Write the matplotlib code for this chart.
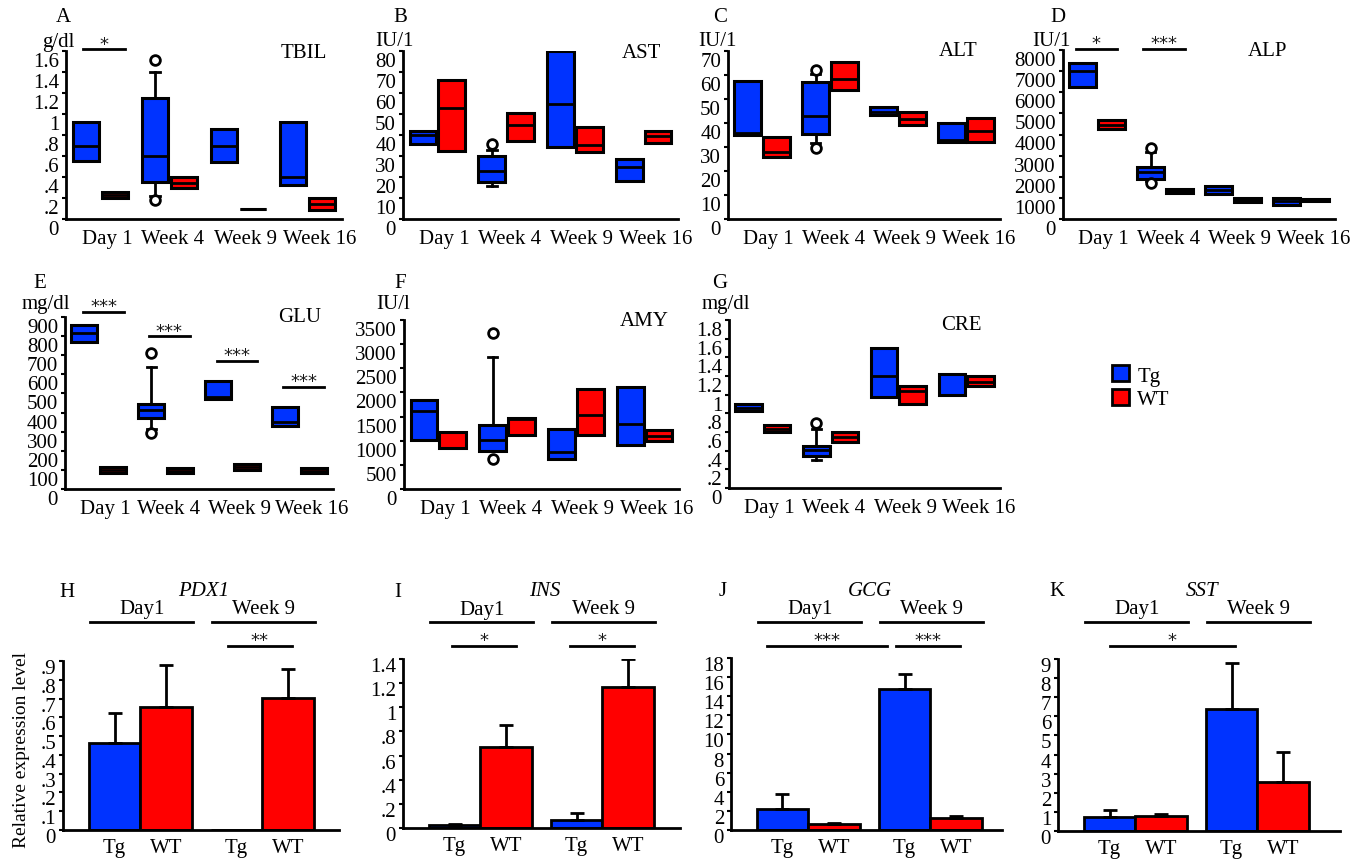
import matplotlib
matplotlib.use('Agg')
import matplotlib.pyplot as plt
import matplotlib.transforms as mtransforms
from matplotlib.patches import Patch
from matplotlib.ticker import FuncFormatter, MultipleLocator

# time points for serum chemistry panels
times = ['Day 1', 'Week 4', 'Week 9', 'Week 16']

# box stats per time point: (whisker low, q1, median, q3, whisker high)
tbil_tg = [(0.55, 0.55, 0.70, 0.92, 0.92), (0.22, 0.35, 0.60, 1.15, 1.40),
           (0.545, 0.545, 0.70, 0.855, 0.855), (0.325, 0.325, 0.40, 0.92, 0.92)]
tbil_wt = [(0.20, 0.20, 0.23, 0.26, 0.26), (0.295, 0.295, 0.345, 0.40, 0.40),
           (0.095, 0.095, 0.095, 0.095, 0.095), (0.085, 0.085, 0.14, 0.20, 0.20)]
tbil_tg_out = [[], [1.51, 0.18], [], []]

ast_tg = [(35.5, 35.5, 40, 42, 42), (15.5, 17.4, 23, 29.8, 33),
          (34.4, 34.4, 55, 80, 80), (17.9, 17.9, 24.6, 28.5, 28.5)]
ast_wt = [(32.5, 32.5, 53, 66, 66), (37.2, 37.2, 44.8, 50.7, 50.7),
          (31.7, 31.7, 35.3, 43.6, 43.6), (36.1, 36.1, 39.6, 42, 42)]
ast_tg_out = [[], [35.7], [], []]

alt_tg = [(35, 35, 36, 57.3, 57.3), (31.6, 35.4, 43, 57.1, 60.3),
          (43.4, 43.4, 44.4, 46.5, 46.5), (32.2, 32.2, 32.9, 40.2, 40.2)]
alt_wt = [(25.9, 25.9, 28, 34.3, 34.3), (53.8, 53.8, 58.3, 65.6, 65.6),
          (39.1, 39.1, 41.6, 44.4, 44.4), (32.2, 32.2, 36.8, 42, 42)]
alt_tg_out = [[], [62.1, 29.5], [], []]

alp_tg = [(6270, 6270, 7010, 7400, 7400), (1810, 1890, 2240, 2440, 3150),
          (1180, 1180, 1390, 1575, 1575), (660, 660, 850, 990, 990)]
alp_wt = [(4280, 4280, 4460, 4680, 4680), (1230, 1230, 1320, 1420, 1420),
          (820, 820, 900, 990, 990), (835, 835, 890, 945, 945)]
alp_tg_out = [[], [3350, 1690], [], []]

glu_tg = [(769, 769, 818, 860, 860), (315, 371, 411, 446, 638),
          (472, 472, 481, 563, 563), (332, 332, 350, 428, 428)]
glu_wt = [(84, 84, 101, 117, 117), (84, 84, 96, 108, 108),
          (101, 101, 115, 131, 131), (84, 84, 96, 110, 110)]
glu_tg_out = [[], [713, 292], [], []]

amy_tg = [(1020, 1020, 1610, 1850, 1850), (780, 780, 1010, 1325, 2730),
          (620, 620, 770, 1240, 1240), (910, 910, 1350, 2120, 2120)]
amy_wt = [(850, 850, 850, 1190, 1190), (1120, 1120, 1450, 1470, 1470),
          (1120, 1120, 1530, 2080, 2080), (990, 990, 1100, 1220, 1220)]
amy_tg_out = [[], [3230, 620], [], []]

cre_tg = [(0.82, 0.82, 0.86, 0.90, 0.90), (0.30, 0.34, 0.405, 0.45, 0.63),
          (0.98, 0.98, 1.20, 1.50, 1.50), (1.0, 1.0, 1.0, 1.22, 1.22)]
cre_wt = [(0.60, 0.60, 0.63, 0.67, 0.67), (0.495, 0.495, 0.55, 0.60, 0.60),
          (0.90, 0.90, 1.04, 1.09, 1.09), (1.09, 1.09, 1.14, 1.20, 1.20)]
cre_tg_out = [[], [0.70], [], []]

no_out = [[], [], [], []]

# qPCR: Tg Day1, WT Day1, Tg Week 9, WT Week 9
bar_labels = ['Tg', 'WT', 'Tg', 'WT']
pdx1_mean = [0.462, 0.655, 0.0, 0.705]
pdx1_err = [0.16, 0.224, 0.0, 0.151]
ins_mean = [0.022, 0.67, 0.069, 1.166]
ins_err = [0.015, 0.187, 0.055, 0.234]
gcg_mean = [2.24, 0.67, 14.78, 1.23]
gcg_err = [1.51, 0.10, 1.51, 0.21]
sst_mean = [0.75, 0.79, 6.38, 2.57]
sst_err = [0.35, 0.08, 2.40, 1.57]

W, H = 1362, 862
BLUE = '#0033ff'
RED = '#ff0000'
FS = 15
plt.rcParams['font.family'] = ['Liberation Serif', 'DejaVu Serif']
plt.rcParams['font.size'] = FS

fig = plt.figure(figsize=(W / 100, H / 100), dpi=100)


def px_axes(left, zero, right, top):
    return fig.add_axes([left / W, (H - zero) / H, (right - left) / W, (zero - top) / H])


def ftext(x, y, s, **kw):
    return fig.text(x / W, 1 - y / H, s, ha='center', va='center', **kw)


def short(v, pos):
    s = f'{v:g}'
    if s.startswith('0.'):
        s = s[1:]
    return s


def style(ax, ymax, step, shift, xpad):
    ax.set_ylim(0, ymax)
    ax.yaxis.set_major_locator(MultipleLocator(step))
    ax.yaxis.set_major_formatter(FuncFormatter(short))
    for s in ('top', 'right'):
        ax.spines[s].set_visible(False)
    for s in ('left', 'bottom'):
        ax.spines[s].set_linewidth(2)
    ax.tick_params(axis='y', length=3, width=1.5, pad=2, labelsize=FS)
    ax.tick_params(axis='x', length=0, pad=xpad, labelsize=FS)
    off = mtransforms.ScaledTranslation(0, -shift / 100, fig.dpi_scale_trans)
    for lab in ax.get_yticklabels():
        lab.set_transform(lab.get_transform() + off)


def star(ax, x0, x1, y, s, trans=None):
    tr = trans if trans is not None else ax.transData
    ax.plot([x0, x1], [y, y], color='k', lw=2, transform=tr, clip_on=False)
    ax.annotate(s, xy=((x0 + x1) / 2, y), xycoords=tr, xytext=(0, 4),
                textcoords='offset points', ha='center', va='center',
                fontsize=13, fontfamily='DejaVu Sans', color='#1a1a1a',
                annotation_clip=False)


def box_panel(ax, tg, wt, tg_out, wt_out, ymax, step):
    for src, outs, off, col in ((tg, tg_out, -0.21, BLUE), (wt, wt_out, 0.21, RED)):
        stats = [dict(whislo=lo, q1=q1, med=md, q3=q3, whishi=hi, fliers=fl)
                 for (lo, q1, md, q3, hi), fl in zip(src, outs)]
        ax.bxp(stats, positions=[i + off for i in range(len(stats))], widths=0.39,
               patch_artist=True, manage_ticks=False, capwidths=0.14,
               boxprops=dict(facecolor=col, edgecolor='k', linewidth=2.2),
               medianprops=dict(color='k', linewidth=2),
               whiskerprops=dict(color='k', linewidth=2),
               capprops=dict(color='k', linewidth=2),
               flierprops=dict(marker='o', markerfacecolor='white', markeredgecolor='k',
                               markersize=7, markeredgewidth=2))
    ax.set_xlim(-0.5, 3.5)
    ax.set_xticks([0.1, 1.05, 2.1, 3.18], times)
    style(ax, ymax, step, 8, 7)


# ---- serum chemistry boxplots ----
box_specs = [
    # letter, unit, name, tg, wt, tg fliers, axes px (left, zero, right, top), ymax, step, sig lines
    ('A', 'g/dl', 'TBIL', tbil_tg, tbil_wt, tbil_tg_out, (66, 220, 342, 52), 1.6, 0.2,
     [(-0.25, 0.36, 1.616, '*')]),
    ('B', 'IU/1', 'AST', ast_tg, ast_wt, ast_tg_out, (403, 220, 678, 52), 80, 10, []),
    ('C', 'IU/1', 'ALT', alt_tg, alt_wt, alt_tg_out, (728, 220, 1000, 52), 70, 10, []),
    ('D', 'IU/1', 'ALP', alp_tg, alp_wt, alp_tg_out, (1063, 220, 1335, 51), 8000, 1000,
     [(-0.31, 0.29, 8050, '*'), (0.68, 1.29, 8050, '***')]),
    ('E', 'mg/dl', 'GLU', glu_tg, glu_wt, glu_tg_out, (65, 490, 333, 318), 900, 100,
     [(-0.23, 0.38, 926, '***'), (0.75, 1.36, 800, '***'),
      (1.77, 2.37, 670, '***'), (2.75, 3.37, 535, '***')]),
    ('F', 'IU/l', 'AMY', amy_tg, amy_wt, amy_tg_out, (404, 490, 679, 321), 3500, 500, []),
    ('G', 'mg/dl', 'CRE', cre_tg, cre_wt, cre_tg_out, (729, 489, 1000, 321), 1.8, 0.2, []),
]
label_px = {'A': ((63, 18), (58, 42), (304, 53)), 'B': ((400, 18), (394, 42), (641, 53)),
            'C': ((720, 18), (717, 42), (958, 52)), 'D': ((1058, 18), (1051, 42), (1268, 52)),
            'E': ((40, 283), (46, 305), (300, 318)), 'F': ((400, 283), (393, 305), (644, 322)),
            'G': ((720, 283), (726, 305), (961, 325))}

for letter, unit, name, tg, wt, tg_out, rect, ymax, step, sigs in box_specs:
    ax = px_axes(*rect)
    box_panel(ax, tg, wt, tg_out, no_out, ymax, step)
    for x0, x1, y, s in sigs:
        star(ax, x0, x1, y, s)
    (lx, ly), (ux, uy), (nx, ny) = label_px[letter]
    ftext(lx, ly, letter, fontsize=FS)
    ftext(ux, uy, unit, fontsize=FS)
    ftext(nx, ny, name, fontsize=FS)

fig.legend(handles=[Patch(facecolor=BLUE, edgecolor='k', linewidth=2, label='Tg'),
                    Patch(facecolor=RED, edgecolor='k', linewidth=2, label='WT')],
           loc='upper left', bbox_to_anchor=(1104 / W, 1 - 358 / H), frameon=False,
           handlelength=0.8, handleheight=0.8, handletextpad=0.4, labelspacing=0.15,
           fontsize=FS, borderaxespad=0)

# ---- qPCR bar charts ----
pos = [0, 1, 2.37, 3.37]
bar_specs = [
    ('H', 'PDX1', pdx1_mean, pdx1_err, (63, 831, 339, 662), 0.9, 0.1,
     [(2.2, 3.44, '**')], (67, 593)),
    ('I', 'INS', ins_mean, ins_err, (403, 829, 680, 660), 1.4, 0.2,
     [(-0.05, 1.19, '*'), (2.24, 3.48, '*')], (398, 593)),
    ('J', 'GCG', gcg_mean, gcg_err, (731, 831, 1002, 659), 18, 2,
     [(-0.3, 2.03, '***'), (2.2, 3.45, '***')], (723, 592)),
    ('K', 'SST', sst_mean, sst_err, (1058, 832, 1340, 660), 9, 1,
     [(0.0, 2.44, '*')], (1057, 592)),
]

for letter, gene, means, errs, rect, ymax, step, sigs, lpx in bar_specs:
    left, zero, right, top = rect
    ax = px_axes(*rect)
    ax.bar(pos, means, width=1, color=[BLUE, RED, BLUE, RED], edgecolor='k', linewidth=2)
    keep = [i for i, m in enumerate(means) if m > 0]
    ax.errorbar([pos[i] for i in keep], [means[i] for i in keep],
                yerr=[[0] * len(keep), [errs[i] for i in keep]], fmt='none',
                ecolor='k', elinewidth=2, capsize=5, capthick=2)
    ax.set_xlim(-1.0, -1.0 + (right - left) / 51.5)
    ax.set_xticks(pos, bar_labels)
    style(ax, ymax, step, 5, 6)

    h = zero - top
    tr = mtransforms.blended_transform_factory(ax.transData, ax.transAxes)
    y_head = (zero - 623) / h
    y_txt = (zero - 610) / h
    y_sig = (zero - 647) / h
    for g0, g1, txt in ((pos[0], pos[1], 'Day1'), (pos[2], pos[3], 'Week 9')):
        ax.plot([g0 - 0.47, g1 + 0.53], [y_head, y_head], color='k', lw=2,
                transform=tr, clip_on=False)
        ax.text((g0 + g1) / 2 + 0.03, y_txt, txt, transform=tr, ha='center',
                va='center', fontsize=FS)
    for x0, x1, s in sigs:
        star(ax, x0, x1, y_sig, s, trans=tr)
    ftext((left + right) / 2 + 3, 592, gene, fontsize=FS, style='italic')
    ftext(lpx[0], lpx[1], letter, fontsize=FS)

ftext(22, 750, 'Relative expression level', fontsize=14, rotation=90)

fig.savefig('out.png', dpi=100)
